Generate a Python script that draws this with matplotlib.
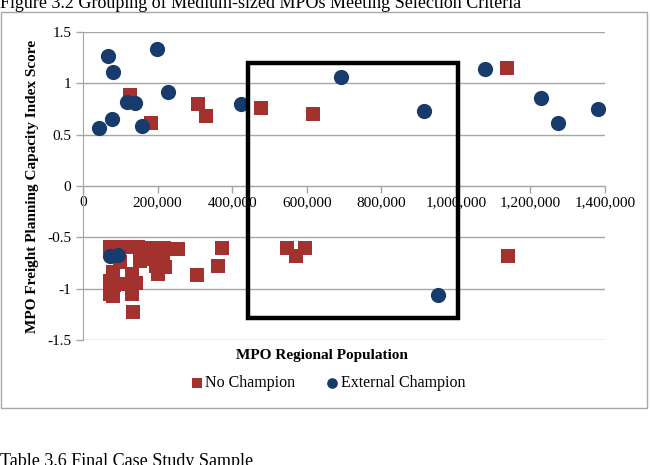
import matplotlib.pyplot as plt
from matplotlib.patches import Rectangle

# No Champion (red squares)
no_champ_pop = [126000, 181500, 309000, 329000, 477000, 617000, 1136000,
                546000, 595000, 571000, 1140000, 372000, 363000, 305000,
                72000, 110000, 147000, 182000, 217000, 228000, 255000,
                153000, 185000, 214000, 196000, 220000,
                80000, 131000, 201000,
                72000, 83000, 110000, 142000,
                72000, 80000, 131000, 134000, 99000]
no_champ_score = [0.89, 0.61, 0.80, 0.68, 0.76, 0.70, 1.15,
                  -0.605, -0.605, -0.686, -0.686, -0.60, -0.78, -0.87,
                  -0.59, -0.59, -0.59, -0.60, -0.60, -0.61, -0.61,
                  -0.73, -0.71, -0.74, -0.78, -0.79,
                  -0.84, -0.86, -0.86,
                  -0.93, -0.96, -0.95, -0.94,
                  -1.05, -1.07, -1.05, -1.23, -0.74]

# External Champion (blue circles)
ext_champ_pop = [67900, 81300, 199200, 227000, 117100, 139400, 423600,
                 76900, 42900, 157300, 691700, 914200, 1077800, 1227900,
                 1274300, 1381600, 951000, 72400, 94700]
ext_champ_score = [1.262, 1.110, 1.330, 0.916, 0.818, 0.809, 0.796,
                   0.657, 0.566, 0.586, 1.061, 0.728, 1.136, 0.857,
                   0.615, 0.748, -1.065, -0.686, -0.670]

x_ticks = [0, 200000, 400000, 600000, 800000, 1000000, 1200000, 1400000]
x_labels = ['0', '200,000', '400,000', '600,000', '800,000', '1,000,000',
            '1,200,000', '1,400,000']
y_ticks = [-1.5, -1, -0.5, 0, 0.5, 1, 1.5]
y_labels = ['-1.5', '-1', '-0.5', '0', '0.5', '1', '1.5']

# selection window
box_x = (442000, 1005000)
box_y = (-1.29, 1.20)

red = '#A3322F'
blue = '#173B6C'
grid = '#A6A6A6'
serif = 'Liberation Serif'

plt.rcParams['font.family'] = serif

W, H = 650, 465
fig = plt.figure(figsize=(W / 100, H / 100), dpi=100)

# chart frame
fig.patches.append(Rectangle((1 / W, 1 - 408 / H), 646 / W, 396 / H,
                             transform=fig.transFigure, fill=False,
                             edgecolor='#A8A8A8', lw=1.0))

ax = fig.add_axes([83 / W, 1 - 340 / H, (605 - 83) / W, (340 - 32) / H])
ax.set_xlim(0, 1400000)
ax.set_ylim(-1.5, 1.5)

ax.scatter(no_champ_pop, no_champ_score, marker='s', s=88, color=red,
           linewidths=0, zorder=3, label='No Champion')
ax.scatter(ext_champ_pop, ext_champ_score, marker='o', s=120, color=blue,
           linewidths=0, zorder=4, label='External Champion')

ax.add_patch(Rectangle((box_x[0], box_y[0]), box_x[1] - box_x[0],
                       box_y[1] - box_y[0], fill=False, edgecolor='black',
                       lw=3.2, zorder=5, clip_on=False))

for sp in ['top', 'right']:
    ax.spines[sp].set_visible(False)
ax.spines['bottom'].set_position(('data', 0))
ax.spines['bottom'].set_color(grid)
ax.spines['left'].set_color(grid)

ax.set_yticks(y_ticks)
ax.set_yticklabels(y_labels, fontsize=11)
ax.set_xticks(x_ticks)
ax.set_xticklabels(x_labels, fontsize=11)
ax.tick_params(axis='both', color=grid, length=5, width=1)
ax.tick_params(axis='x', pad=2)
ax.yaxis.grid(True, color=grid, lw=1)
ax.set_axisbelow(True)

fig.text(322 / W, 1 - 355 / H, 'MPO Regional Population', ha='center',
         va='center', fontsize=11, fontweight='bold')
fig.text(33 / W, 1 - 186 / H, 'MPO Freight Planning Capacity Index Score',
         ha='center', va='center', rotation=90, fontsize=11,
         fontweight='bold')

leg = fig.legend(loc='center', bbox_to_anchor=(327 / W, 1 - 383 / H), ncol=2,
                 frameon=False, fontsize=11.5, markerscale=0.7,
                 handletextpad=0.05, columnspacing=1.8, handlelength=1.0)

# page text around the chart
fig.text(0, 1 - 8 / H,
         'Figure 3.2 Grouping of Medium-sized MPOs Meeting Selection Criteria',
         ha='left', va='baseline', fontsize=13)
fig.text(0, 1 - 466 / H, 'Table 3.6 Final Case Study Sample',
         ha='left', va='baseline', fontsize=13)

fig.savefig('out.png', dpi=100)
